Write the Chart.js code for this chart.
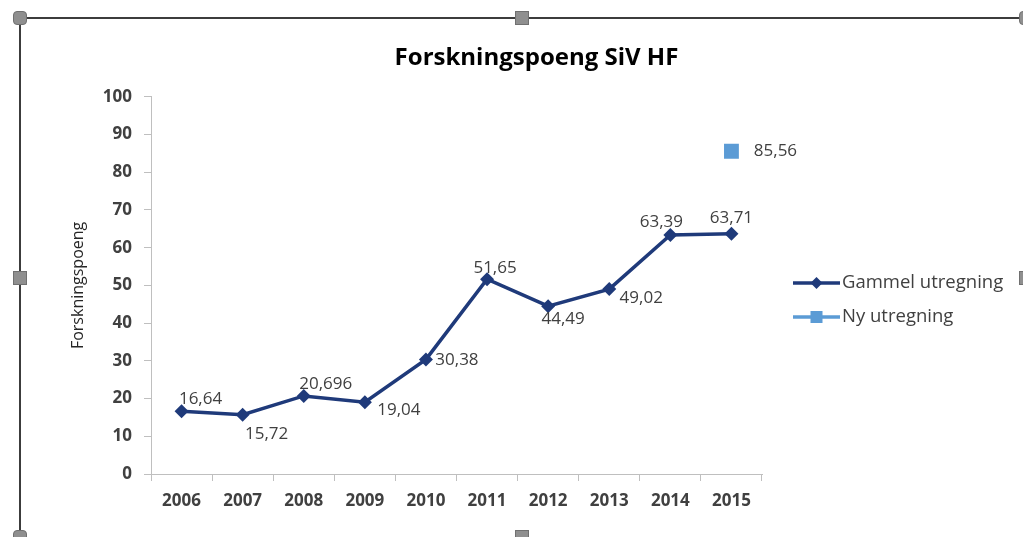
<!DOCTYPE html>
<html>
<head>
<meta charset="utf-8">
<script src="https://cdn.jsdelivr.net/npm/chart.js@4"></script>
<style>
  html, body { margin: 0; padding: 0; background: #fff; overflow: hidden; }
  #wrap { position: relative; width: 1023px; height: 537px; }
  #myChart { position: absolute; left: 0; top: 0; }
  .ln { position: absolute; background: #3c3c3c; }
  .hd { position: absolute; width: 14px; height: 14px; background: #8f8f8f; border: 1px solid #707070; box-sizing: border-box; }
  .rd { border-radius: 4px; }
</style>
</head>
<body>
<div id="wrap">
  <canvas id="myChart" width="1023" height="537"></canvas>
  <!-- selection frame of the chart object -->
  <div class="ln" style="left:19px; top:17px; width:1010px; height:2px;"></div>
  <div class="ln" style="left:19px; top:17px; width:2px; height:530px;"></div>
  <div class="hd rd" style="left:13px; top:11px;"></div>
  <div class="hd" style="left:515px; top:11px;"></div>
  <div class="hd rd" style="left:1019px; top:11px;"></div>
  <div class="hd" style="left:13px; top:271px;"></div>
  <div class="hd" style="left:1019px; top:271px;"></div>
  <div class="hd rd" style="left:13px; top:530px;"></div>
  <div class="hd" style="left:515px; top:530px;"></div>
</div>
<script>
// data
const years = ['2006', '2007', '2008', '2009', '2010', '2011', '2012', '2013', '2014', '2015'];
const gammelUtregning = [16.64, 15.72, 20.696, 19.04, 30.38, 51.65, 44.49, 49.02, 63.39, 63.71];
const nyUtregning = [null, null, null, null, null, null, null, null, null, 85.56];

// label offsets from the point (style only)
const gammelLabelOffsets = [[19, -12], [24, 19], [22, -12], [34, 8], [31, 1], [8, -11], [15, 13], [32, 9], [-9, -13], [0, -16]];
const nyLabelOffsets = [null, null, null, null, null, null, null, null, null, [44, 0]];

const FONT = '"Open Sans", sans-serif';
const navy = '#1f3a7a';
const lightBlue = '#5b9bd5';
const textGrey = '#404040';
const axisGrey = '#bfbfbf';

const fmt = v => String(v).replace('.', ',');

// value labels next to points
const valueLabels = {
    id: 'valueLabels',
    afterDatasetsDraw(chart) {
        const ctx = chart.ctx;
        ctx.save();
        ctx.font = '17px ' + FONT;
        ctx.fillStyle = textGrey;
        ctx.textAlign = 'center';
        ctx.textBaseline = 'middle';
        chart.data.datasets.forEach((ds, i) => {
            const meta = chart.getDatasetMeta(i);
            meta.data.forEach((pt, j) => {
                const v = ds.data[j];
                if (v === null) return;
                const off = ds.labelOffsets[j] || [0, -14];
                ctx.fillText(fmt(v), pt.x + off[0], pt.y + off[1]);
            });
        });
        ctx.restore();
    }
};

// legend on the right: line with marker + text
const sideLegend = {
    id: 'sideLegend',
    afterDraw(chart) {
        const ctx = chart.ctx;
        ctx.save();
        chart.data.datasets.forEach((ds, i) => {
            const y = 283 + i * 34;
            const x0 = 793, x1 = 840, xc = (x0 + x1) / 2;
            ctx.strokeStyle = ds.borderColor;
            ctx.lineWidth = 3.5;
            ctx.beginPath();
            ctx.moveTo(x0, y);
            ctx.lineTo(x1, y);
            ctx.stroke();
            ctx.fillStyle = ds.pointBackgroundColor;
            ctx.beginPath();
            if (ds.pointStyle === 'rectRot') {
                ctx.moveTo(xc - 6, y);
                ctx.lineTo(xc, y - 6);
                ctx.lineTo(xc + 6, y);
                ctx.lineTo(xc, y + 6);
                ctx.closePath();
            } else {
                ctx.rect(xc - 6, y - 6, 12, 12);
            }
            ctx.fill();
            ctx.font = '18.5px ' + FONT;
            ctx.fillStyle = textGrey;
            ctx.textAlign = 'left';
            ctx.textBaseline = 'middle';
            ctx.fillText(ds.label, x1 + 2, y);
        });
        ctx.restore();
    }
};

const chartContext = document.getElementById('myChart').getContext('2d');

const chart = new Chart(chartContext, {
    type: 'line',
    data: {
        labels: years,
        datasets: [{
            label: 'Gammel utregning',
            data: gammelUtregning,
            labelOffsets: gammelLabelOffsets,
            borderColor: navy,
            backgroundColor: navy,
            pointBackgroundColor: navy,
            pointBorderColor: navy,
            borderWidth: 3.5,
            pointStyle: 'rectRot',
            pointRadius: 7,
            pointBorderWidth: 0,
            tension: 0
        }, {
            label: 'Ny utregning',
            data: nyUtregning,
            labelOffsets: nyLabelOffsets,
            borderColor: lightBlue,
            backgroundColor: lightBlue,
            pointBackgroundColor: lightBlue,
            pointBorderColor: lightBlue,
            borderWidth: 3.5,
            pointStyle: 'rect',
            pointRadius: 10.5,
            pointBorderWidth: 0
        }]
    },
    options: {
        responsive: false,
        animation: false,
        layout: {
            padding: { left: 50, right: 0, top: 0, bottom: 0 }
        },
        plugins: {
            legend: { display: false },
            tooltip: { enabled: false },
            title: {
                display: true,
                text: 'Forskningspoeng SiV HF',
                color: '#000',
                font: { family: FONT, size: 24, weight: 'bold' },
                padding: { top: 44, bottom: 24 }
            }
        },
        scales: {
            x: {
                offset: true,
                grid: { offset: true, drawOnChartArea: false, tickLength: 7, color: axisGrey },
                border: { color: axisGrey, width: 1 },
                ticks: {
                    color: textGrey,
                    font: { family: FONT, size: 17, weight: 'bold' },
                    padding: 10,
                    maxRotation: 0
                },
                afterFit(scale) { scale.height = 63; }
            },
            y: {
                min: 0,
                max: 100,
                grid: { drawOnChartArea: false, tickLength: 7, color: axisGrey },
                border: { color: axisGrey, width: 1 },
                ticks: {
                    stepSize: 10,
                    color: textGrey,
                    font: { family: FONT, size: 17, weight: 'bold' },
                    padding: 12
                },
                title: {
                    display: true,
                    text: 'Forskningspoeng',
                    color: '#262626',
                    font: { family: FONT, size: 16 },
                    padding: { top: 19, bottom: 0 }
                },
                afterFit(scale) { scale.width = 101; }
            },
            // empty space on the right for the legend
            side: {
                position: 'right',
                display: true,
                grid: { display: false },
                border: { display: false },
                ticks: { display: false },
                afterFit(scale) { scale.width = 261; }
            }
        }
    },
    plugins: [valueLabels, sideLegend]
});
</script>
</body>
</html>
